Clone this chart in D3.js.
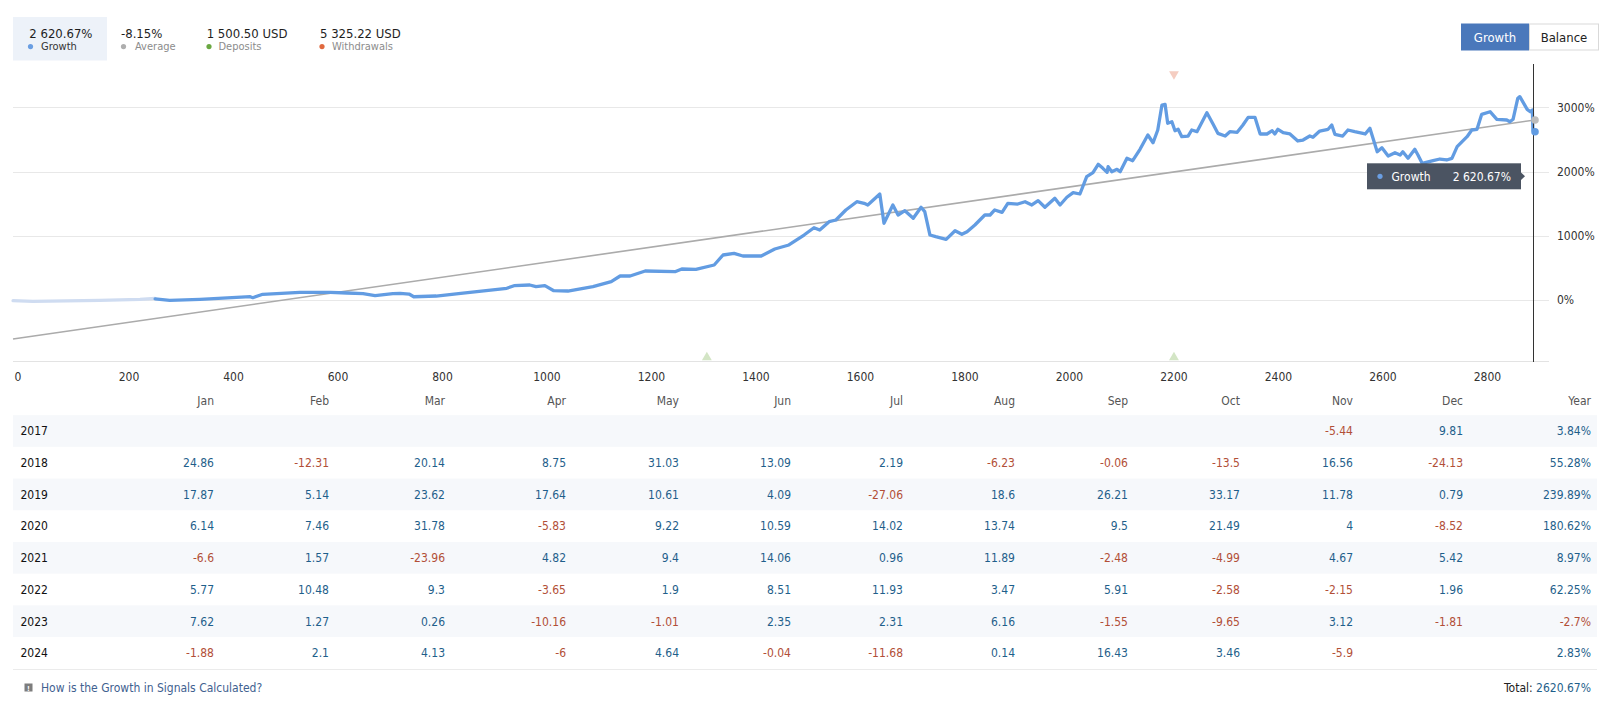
<!DOCTYPE html>
<html><head><meta charset="utf-8">
<script src="https://cdn.jsdelivr.net/npm/d3@7"></script>
<style>
html,body{margin:0;padding:0;background:#fff;}
svg{display:block;font-family:"DejaVu Sans Condensed","DejaVu Sans",sans-serif;}
</style></head><body>
<svg id="c" width="1606" height="705"></svg>
<script>
// ---------- DATA ----------
const summaryValues = ["2 620.67%", "-8.15%", "1 500.50 USD", "5 325.22 USD"];
const summaryLabels = ["Growth", "Average", "Deposits", "Withdrawals"];
const buttons = ["Growth", "Balance"];
const xTicks = [0,200,400,600,800,1000,1200,1400,1600,1800,2000,2200,2400,2600,2800];
const yTicks = [0,1000,2000,3000];
// history before the signal start (light line)
const preSignal = [[-21,-11],[17,-20],[145,-5],[222,11],[251,26]];
// growth % by deal index
const growth = [[251,16],[279,-5],[337,11],[433,51],[438,36],[457,89],[528,120],[586,120],[618,109],[649,98],[672,67],[706,98],[720,104],[737,93],[746,51],[789,62],[836,104],[924,182],[938,223],[968,234],[980,207],[997,223],[1014,145],[1041,140],[1089,207],[1124,285],[1141,374],[1160,374],[1189,452],[1246,441],[1259,483],[1286,478],[1321,545],[1338,701],[1359,727],[1376,685],[1411,685],[1437,794],[1464,857],[1493,1012],[1512,1126],[1523,1090],[1541,1220],[1554,1246],[1573,1402],[1594,1531],[1608,1506],[1615,1480],[1638,1651],[1646,1195],[1663,1480],[1673,1324],[1686,1391],[1702,1273],[1717,1444],[1724,1376],[1734,1012],[1745,986],[1765,945],[1782,1079],[1795,1023],[1805,1064],[1820,1168],[1839,1324],[1849,1324],[1858,1402],[1872,1366],[1883,1506],[1902,1495],[1916,1531],[1929,1480],[1941,1547],[1954,1444],[1973,1584],[1983,1480],[1996,1600],[2008,1672],[2021,1651],[2034,1921],[2046,1983],[2056,2113],[2065,2051],[2073,1988],[2075,2077],[2082,1998],[2092,2035],[2098,1998],[2111,2207],[2122,2170],[2136,2347],[2151,2570],[2161,2450],[2170,2648],[2178,3037],[2184,3048],[2189,2752],[2197,2777],[2203,2637],[2209,2659],[2216,2544],[2228,2554],[2235,2648],[2245,2622],[2264,2918],[2276,2737],[2285,2596],[2299,2554],[2308,2622],[2322,2612],[2333,2726],[2343,2845],[2356,2845],[2366,2586],[2379,2586],[2389,2637],[2394,2586],[2400,2659],[2410,2606],[2423,2586],[2438,2477],[2448,2492],[2461,2554],[2467,2534],[2480,2632],[2496,2659],[2503,2726],[2509,2581],[2524,2554],[2534,2648],[2547,2622],[2567,2586],[2576,2674],[2590,2310],[2599,2372],[2611,2243],[2624,2295],[2634,2259],[2639,2310],[2649,2207],[2662,2347],[2668,2259],[2676,2129],[2697,2170],[2710,2196],[2723,2181],[2733,2207],[2743,2388],[2762,2544],[2771,2648],[2781,2659],[2790,2892],[2806,2933],[2819,2815],[2838,2804],[2844,2777],[2850,2815],[2859,3142],[2863,3167],[2877,2970],[2883,2933],[2887,2960],[2888,2648],[2892,2620.67]];
const average = [[-21,-607],[2892,2804]];
const depositsAt = [1307, 2201];
const withdrawalsAt = [2201];
const tooltipLabel = "Growth";
const tooltipValue = "2 620.67%";

const months = ["Jan","Feb","Mar","Apr","May","Jun","Jul","Aug","Sep","Oct","Nov","Dec"];
const years = [2017,2018,2019,2020,2021,2022,2023,2024];
const monthly = [
  [null,null,null,null,null,null,null,null,null,null,-5.44,9.81],
  [24.86,-12.31,20.14,8.75,31.03,13.09,2.19,-6.23,-0.06,-13.5,16.56,-24.13],
  [17.87,5.14,23.62,17.64,10.61,4.09,-27.06,18.6,26.21,33.17,11.78,0.79],
  [6.14,7.46,31.78,-5.83,9.22,10.59,14.02,13.74,9.5,21.49,4,-8.52],
  [-6.6,1.57,-23.96,4.82,9.4,14.06,0.96,11.89,-2.48,-4.99,4.67,5.42],
  [5.77,10.48,9.3,-3.65,1.9,8.51,11.93,3.47,5.91,-2.58,-2.15,1.96],
  [7.62,1.27,0.26,-10.16,-1.01,2.35,2.31,6.16,-1.55,-9.65,3.12,-1.81],
  [-1.88,2.1,4.13,-6,4.64,-0.04,-11.68,0.14,16.43,3.46,-5.9,null]
];
const yearTotals = [3.84,55.28,239.89,180.62,8.97,62.25,-2.7,2.83];
const totalGrowth = "2620.67%";
const helpText = "How is the Growth in Signals Calculated?";

// ---------- DRAW ----------
const svg = d3.select("#c");
const POS = "#1f5f8b", NEG = "#b24f37";

// legend
svg.append("rect").attr("x",13).attr("y",17).attr("width",94).attr("height",43.5).attr("fill","#edf2f9");
const lx = [29.3,121,206.7,320], dx = [30.5,123.5,209,322], tx = [41,135,218.5,332];
const dotC = ["#6a9ee2","#aeaeae","#6aa842","#e0693e"];
summaryValues.forEach((v,i)=>{
  svg.append("text").attr("x",lx[i]).attr("y",38.3).attr("font-size",13).attr("fill","#1e1e1e").text(v);
  svg.append("circle").attr("cx",dx[i]).attr("cy",46.6).attr("r",2.6).attr("fill",dotC[i]);
  svg.append("text").attr("x",tx[i]).attr("y",50.3).attr("font-size",11).attr("fill", i===0?"#333":"#8c8c8c").text(summaryLabels[i]);
});

// buttons
svg.append("rect").attr("x",1461).attr("y",23.5).attr("width",68).attr("height",27).attr("fill","#4a78bb");
svg.append("text").attr("x",1495).attr("y",41.6).attr("text-anchor","middle").attr("font-size",13).attr("fill","#fff").text(buttons[0]);
svg.append("rect").attr("x",1529.5).attr("y",24).attr("width",69).attr("height",26).attr("fill","#fff").attr("stroke","#d9d9d9");
svg.append("text").attr("x",1564).attr("y",41.6).attr("text-anchor","middle").attr("font-size",13).attr("fill","#222").text(buttons[1]);

// scales
const x = d3.scaleLinear().domain([-21, 2892]).range([13, 1535]);
const y = d3.scaleLinear().domain([-1000, 3000]).range([364.2, 107.4]);
const plotTop = 64, plotBottom = 362, gridRight = 1549;

// grid
svg.append("g").selectAll("line").data(yTicks).join("line")
  .attr("x1",13).attr("x2",gridRight).attr("y1",d=>Math.round(y(d))+0.5).attr("y2",d=>Math.round(y(d))+0.5)
  .attr("stroke","#e8e8e8");
svg.append("line").attr("x1",13).attr("x2",gridRight).attr("y1",361.5).attr("y2",361.5).attr("stroke","#e3e3e3");

// axes
const xa = svg.append("g").attr("transform",`translate(0,${plotBottom})`)
  .call(d3.axisBottom(x).tickValues(xTicks).tickSize(0).tickPadding(10.5).tickFormat(d3.format("d")));
xa.select(".domain").remove();
xa.selectAll("text").attr("font-size",12).attr("fill","#333");
xa.selectAll(".tick").filter(d=>d===0).select("text").attr("dx",-6.5);
xa.attr("font-family",null);

const ya = svg.append("g").attr("transform",`translate(${gridRight},0)`)
  .call(d3.axisRight(y).tickValues(yTicks).tickSize(0).tickPadding(8).tickFormat(d=>d+"%"));
ya.select(".domain").remove();
ya.selectAll("text").attr("font-size",12).attr("fill","#333");
ya.attr("font-family",null);

// clip
svg.append("clipPath").attr("id","pc").append("rect").attr("x",0).attr("y",plotTop).attr("width",1545).attr("height",plotBottom-plotTop);
const plot = svg.append("g").attr("clip-path","url(#pc)");
const line = d3.line().x(d=>x(d[0])).y(d=>y(d[1]));

plot.append("path").datum(preSignal).attr("d",line).attr("fill","none").attr("stroke","#cfdcf1").attr("stroke-width",3.2).attr("stroke-linejoin","round").attr("stroke-linecap","round");
plot.append("path").datum(average).attr("d",line).attr("fill","none").attr("stroke","#ababab").attr("stroke-width",1.6);
plot.append("path").datum(growth).attr("d",line).attr("fill","none").attr("stroke","#629ce2").attr("stroke-width",3.3).attr("stroke-linejoin","round").attr("stroke-linecap","round");

// deposit / withdrawal markers
const tri = d3.symbol().type(d3.symbolTriangle).size(42);
svg.append("g").selectAll("path").data(depositsAt).join("path")
  .attr("d",tri).attr("transform",d=>`translate(${x(d)},357.5)`).attr("fill","#d3e5c5");
svg.append("g").selectAll("path").data(withdrawalsAt).join("path")
  .attr("d",tri).attr("transform",d=>`translate(${x(d)},74) rotate(180)`).attr("fill","#f5cdc1");

// crosshair
const last = growth[growth.length-1];
const cx = Math.round(x(last[0]))-1.5;
svg.append("line").attr("x1",cx).attr("x2",cx).attr("y1",plotTop).attr("y2",plotBottom).attr("stroke","#333").attr("stroke-width",1);

// end markers
svg.append("circle").attr("cx",x(average[1][0])).attr("cy",y(average[1][1])).attr("r",3.8).attr("fill","#bcbcbc");
svg.append("circle").attr("cx",x(last[0])).attr("cy",y(last[1])).attr("r",3.8).attr("fill","#629ce2");

// tooltip
const tt = svg.append("g");
tt.append("rect").attr("x",1367).attr("y",163.3).attr("width",154).attr("height",26).attr("fill","#4b5462");
tt.append("path").attr("d","M1521,172.5 L1525,176.3 L1521,180 Z").attr("fill","#4b5462");
tt.append("circle").attr("cx",1380).attr("cy",176.3).attr("r",2.6).attr("fill","#6a9ee2");
tt.append("text").attr("x",1391.5).attr("y",180.6).attr("font-size",12).attr("fill","#fff").text(tooltipLabel);
tt.append("text").attr("x",1511).attr("y",180.6).attr("text-anchor","end").attr("font-size",12).attr("fill","#fff").text(tooltipValue);

// ---------- TABLE ----------
const col = d3.scaleOrdinal().domain(months).range([214, 329, 445, 566, 679, 791, 903, 1015, 1128, 1240, 1353, 1463]);
const yearColX = 1591;
const rowY = d3.scaleLinear().domain([0,1]).range([431, 462.7]);
const tbl = svg.append("g").attr("font-size",12);

years.forEach((yr,i)=>{
  if (i%2===0) tbl.append("rect").attr("x",13).attr("y",rowY(i)-15.85).attr("width",1584).attr("height",31.7).attr("fill","#f6f8fb");
});
tbl.append("line").attr("x1",13).attr("x2",1597).attr("y1",669.5).attr("y2",669.5).attr("stroke","#ebebeb");

// header
months.forEach(m=>{
  tbl.append("text").attr("x",col(m)).attr("y",405).attr("text-anchor","end").attr("fill","#555").text(m);
});
tbl.append("text").attr("x",yearColX).attr("y",405).attr("text-anchor","end").attr("fill","#555").text("Year");

years.forEach((yr,i)=>{
  const cy = rowY(i)+4.3;
  tbl.append("text").attr("x",20.5).attr("y",cy).attr("fill","#111").text(yr);
  monthly[i].forEach((v,j)=>{
    if (v===null) return;
    tbl.append("text").attr("x",col(months[j])).attr("y",cy).attr("text-anchor","end")
      .attr("fill", v<0?NEG:POS).text(String(v));
  });
  const t = yearTotals[i];
  tbl.append("text").attr("x",yearColX).attr("y",cy).attr("text-anchor","end").attr("fill", t<0?NEG:POS).text(t+"%");
});

// footer
svg.append("rect").attr("x",24.5).attr("y",683.5).attr("width",8).attr("height",8).attr("fill","#7d7d7d");
svg.append("text").attr("x",28.5).attr("y",690.5).attr("text-anchor","middle").attr("font-size",7).attr("font-weight","bold").attr("fill","#fff").text("!");
svg.append("text").attr("x",41).attr("y",692).attr("font-size",12).attr("fill","#3f6190").text(helpText);
const tot = svg.append("text").attr("x",yearColX).attr("y",692).attr("text-anchor","end").attr("font-size",12);
tot.append("tspan").attr("fill","#222").text("Total: ");
tot.append("tspan").attr("fill",POS).text(totalGrowth);
</script>
</body></html>
